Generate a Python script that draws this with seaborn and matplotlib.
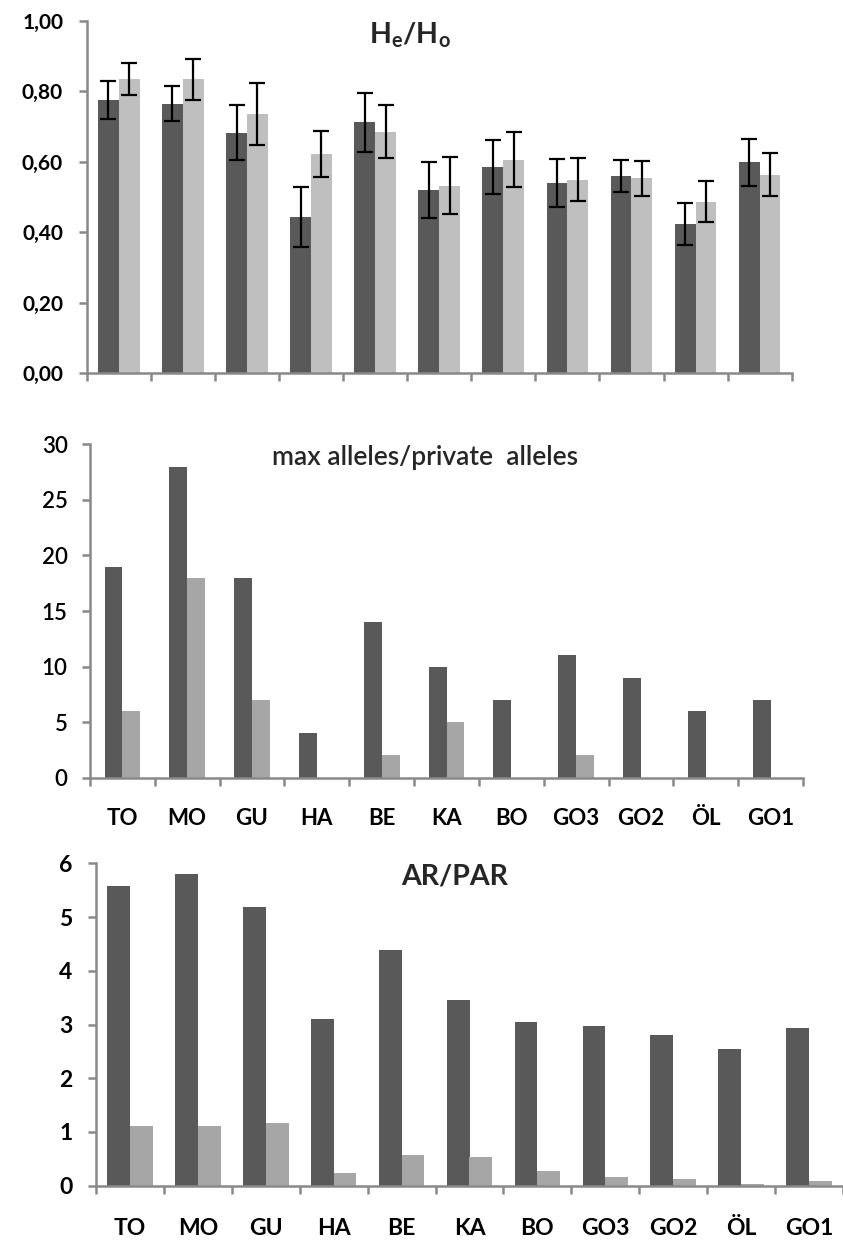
import numpy as np
import pandas as pd
import matplotlib
matplotlib.use("Agg")
import matplotlib.pyplot as plt
import seaborn as sns

# ---------------- data ----------------
cats = ["TO", "MO", "GU", "HA", "BE", "KA", "BO", "GO3", "GO2", "ÖL", "GO1"]

he = [0.776, 0.765, 0.683, 0.444, 0.712, 0.520, 0.586, 0.540, 0.560, 0.423, 0.599]
ho = [0.835, 0.835, 0.736, 0.623, 0.686, 0.533, 0.606, 0.550, 0.553, 0.487, 0.563]
he_err = [0.053, 0.050, 0.078, 0.085, 0.085, 0.080, 0.077, 0.068, 0.045, 0.059, 0.067]
ho_err = [0.045, 0.058, 0.088, 0.065, 0.075, 0.082, 0.078, 0.060, 0.050, 0.058, 0.061]

max_alleles = [19, 28, 18, 4, 14, 10, 7, 11, 9, 6, 7]
private_alleles = [6, 18, 7, 0, 2, 5, 0, 2, 0, 0, 0]

ar = [5.57, 5.80, 5.18, 3.10, 4.39, 3.46, 3.05, 2.97, 2.81, 2.55, 2.94]
par = [1.12, 1.12, 1.17, 0.24, 0.58, 0.54, 0.28, 0.17, 0.12, 0.04, 0.09]

yticks_top = [0.0, 0.2, 0.4, 0.6, 0.8, 1.0]
yticks_mid = [0, 5, 10, 15, 20, 25, 30]
yticks_bot = [0, 1, 2, 3, 4, 5, 6]

# ---------------- style ----------------
sns.set_style("white")
plt.rcParams['font.family'] = ['Lato', 'DejaVu Sans']
plt.rcParams['mathtext.fontset'] = 'custom'
plt.rcParams['mathtext.rm'] = 'Lato'
plt.rcParams['mathtext.bf'] = 'Lato:bold'
plt.rcParams['mathtext.it'] = 'Lato:italic'

DARK = "#595959"
LIGHT1 = "#bfbfbf"
LIGHT2 = "#a6a6a6"
AXC = "#898989"

W, H = 843, 1242
fig = plt.figure(figsize=(W / 100, H / 100), dpi=100)


def px_axes(l, t, r, b):
    return fig.add_axes([l / W, 1 - b / H, (r - l) / W, (b - t) / H])


def grouped(ax, a, b, colors, width):
    df = pd.DataFrame({
        "pop": cats * 2,
        "val": list(a) + list(b),
        "series": ["A"] * len(cats) + ["B"] * len(cats),
    })
    sns.barplot(data=df, x="pop", y="val", hue="series", order=cats,
                hue_order=["A", "B"], palette=colors, width=width,
                saturation=1, linewidth=0, legend=False, errorbar=None, ax=ax)


def style(ax, xr, ylim, yticks, ylabels, yfs, yweight, ypad,
          xlabels, xfs, xpad):
    for s in ["top", "right"]:
        ax.spines[s].set_visible(False)
    for s in ["left", "bottom"]:
        ax.spines[s].set_color(AXC)
        ax.spines[s].set_linewidth(1.8)
    ax.set_xlim(-0.5, xr)
    ax.set_ylim(*ylim)
    ax.set_yticks(yticks)
    ax.set_yticklabels(ylabels, fontsize=yfs, fontweight=yweight, color="black")
    ax.tick_params(axis="y", length=6, width=1.8, color=AXC, pad=ypad, left=True)
    ax.set_xticks(range(len(cats)))
    if xlabels:
        ax.set_xticklabels(cats, fontsize=xfs, fontweight="bold", color="black")
    else:
        ax.set_xticklabels([])
    ax.tick_params(axis="x", which="major", length=0, pad=xpad, bottom=True)
    ax.set_xticks(np.arange(-0.5, len(cats), 1.0), minor=True)
    ax.tick_params(axis="x", which="minor", length=6, width=1.8, color=AXC, bottom=True)
    ax.set_xlabel("")
    ax.set_ylabel("")
    ax.grid(False)


# ---------------- top panel: He/Ho ----------------
ax1 = px_axes(86.7, 21, 791.7, 373.3)
grouped(ax1, he, ho, [DARK, LIGHT1], 0.65)
for cont, err in zip(ax1.containers, [he_err, ho_err]):
    xs = [p.get_x() + p.get_width() / 2 for p in cont]
    ys = [p.get_height() for p in cont]
    ax1.errorbar(xs, ys, yerr=err, fmt="none", ecolor="black",
                 elinewidth=1.6, capsize=5.5, capthick=1.6, zorder=5)
style(ax1, 10.31, (0, 1.0), yticks_top,
      [f"{v:.2f}".replace(".", ",") for v in yticks_top], 15, "bold", 11,
      False, 0, 0)

# ---------------- middle panel: max / private alleles ----------------
ax2 = px_axes(90, 444.3, 803, 777.7)
grouped(ax2, max_alleles, private_alleles, [DARK, LIGHT2], 0.55)
style(ax2, 10.37, (0, 30), yticks_mid, [str(v) for v in yticks_mid], 16,
      "semibold", 10, True, 16, 22)

# ---------------- bottom panel: AR / PAR ----------------
ax3 = px_axes(96, 863.3, 843, 1185.7)
grouped(ax3, ar, par, [DARK, LIGHT2], 0.67)
style(ax3, 10.36, (0, 6), yticks_bot, [str(v) for v in yticks_bot], 16.5,
      "bold", 11, True, 16.5, 23.5)

# ---------------- titles ----------------
fig.text(410 / W, 1 - 43.5 / H, r"$\mathbf{H_e/H_o}$", fontsize=20.5,
         ha="center", va="baseline")
fig.text(425 / W, 1 - 465 / H, "max alleles/private  alleles", fontsize=19,
         fontweight="semibold", ha="center", va="baseline")
fig.text(455 / W, 1 - 885 / H, "AR/PAR", fontsize=20.5, fontweight="bold",
         ha="center", va="baseline")

fig.savefig("out.png", dpi=100)
